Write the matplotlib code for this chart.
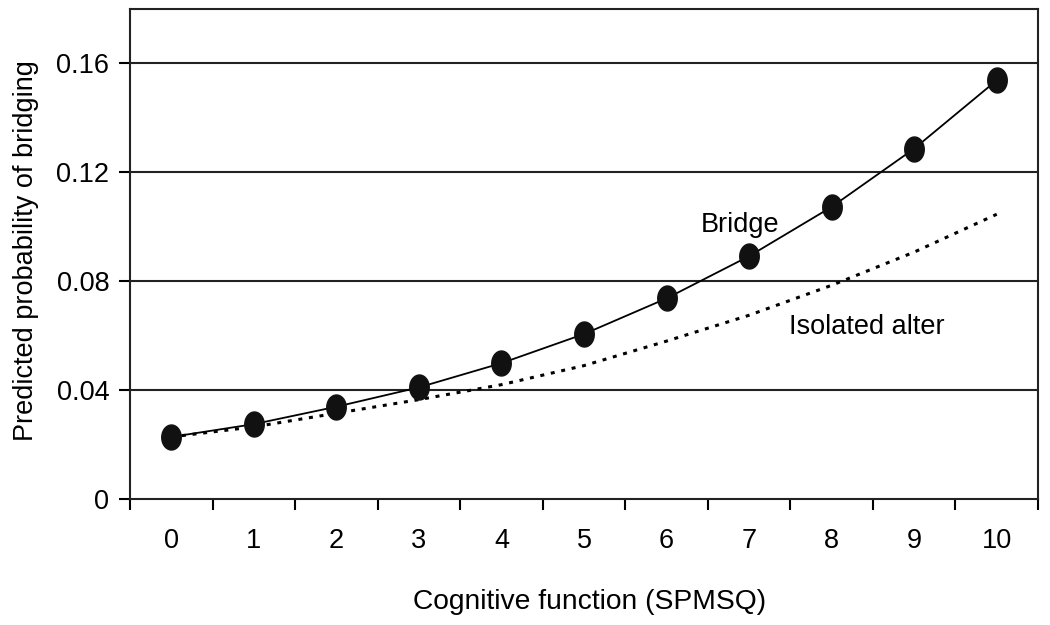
import numpy as np
import matplotlib
matplotlib.use("Agg")
import matplotlib.pyplot as plt

plt.rcParams['font.family'] = ['Liberation Sans', 'DejaVu Sans']

categories = [0, 1, 2, 3, 4, 5, 6, 7, 8, 9, 10]
bridge = [0.0228, 0.0275, 0.0339, 0.0410, 0.0499, 0.0606, 0.0737, 0.0892, 0.1073, 0.1287, 0.1538]
isolated = [0.0228, 0.0265, 0.0315, 0.0365, 0.0420, 0.0490, 0.0580, 0.0675, 0.0785, 0.0907, 0.1046]
yticks = [0, 0.04, 0.08, 0.12, 0.16]
ytick_labels = ["0", "0.04", "0.08", "0.12", "0.16"]

FS = 19.5

fig = plt.figure(figsize=(10.5, 6.25), dpi=100)
ax = fig.add_axes([130/1050, 1-499/625, (1038-130)/1050, (499-9)/625])

x = np.arange(len(categories))
t = np.linspace(0, 2*np.pi, 60)
ell = np.column_stack([0.78*np.cos(t), np.sin(t)])

for yv in yticks[1:]:
    ax.axhline(yv, color='#222222', lw=1.5, zorder=1)

ax.plot(x, isolated, color='black', lw=2.2, linestyle=(0, (1.3, 2.2)), zorder=2)
ax.plot(x, bridge, color='black', lw=1.3, marker=ell, markersize=18,
        markerfacecolor='#111111', markeredgecolor='#111111', zorder=3)

ax.set_xlim(-0.5, 10.5)
ax.set_ylim(0, 0.18)
ax.set_yticks(yticks)
ax.set_yticklabels(ytick_labels)
ax.set_xticks(x)
ax.set_xticklabels([str(c) for c in categories])
ax.set_xticks(np.arange(-0.5, 11, 1), minor=True)

ax.tick_params(axis='x', which='major', length=0, pad=21, labelsize=FS)
ax.tick_params(axis='x', which='minor', length=8, width=1.5, direction='out')
ax.tick_params(axis='y', which='major', length=8, width=1.5, direction='out', pad=7, labelsize=FS)

for s in ax.spines.values():
    s.set_linewidth(1.5)
    s.set_color('#222222')

ax.text(6.41, 0.1005, "Bridge", fontsize=FS, va='center', ha='left')
ax.text(7.48, 0.0631, "Isolated alter", fontsize=FS, va='center', ha='left')

fig.text(590/1050, 1-602/625, "Cognitive function (SPMSQ)", fontsize=20.3, ha='center', va='center')
fig.text(26/1050, 1-251/625, "Predicted probability of bridging", fontsize=FS, ha='center', va='center', rotation=90)

fig.savefig("out.png", dpi=100)
